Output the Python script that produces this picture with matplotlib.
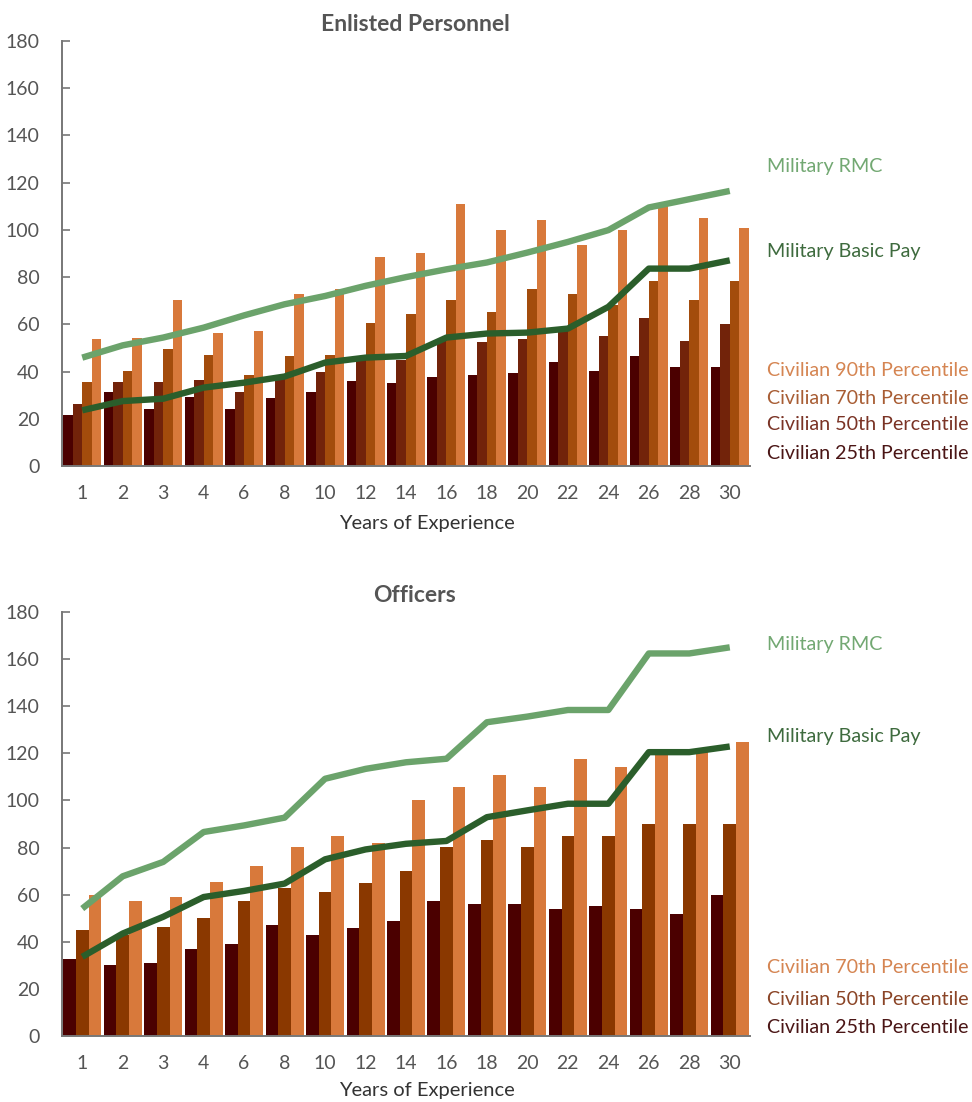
import numpy as np
import matplotlib
matplotlib.use('Agg')
import matplotlib.pyplot as plt
import matplotlib.transforms as mtransforms

plt.rcParams.update({
    "font.family": ["Lato", "DejaVu Sans"],
    "font.size": 14,
})

YEARS = ['1', '2', '3', '4', '6', '8', '10', '12', '14', '16', '18', '20', '22', '24', '26', '28', '30']

# Enlisted personnel (thousands of dollars)
ENL_P25 = [21.5, 31.2, 24.0, 29.1, 24.0, 28.7, 31.2, 35.9, 35.0, 37.6, 38.4, 39.3, 43.9, 40.1, 46.5, 41.8, 41.8]
ENL_P50 = [26.1, 35.5, 35.5, 36.3, 31.2, 37.0, 39.8, 45.0, 45.0, 54.0, 52.4, 53.7, 58.0, 54.9, 62.6, 52.8, 60.0]
ENL_P70 = [35.5, 40.1, 49.4, 46.9, 38.4, 46.5, 46.9, 60.5, 64.3, 70.2, 65.1, 74.9, 72.7, 68.0, 78.2, 70.2, 78.2]
ENL_P90 = [53.7, 54.1, 70.2, 56.2, 57.1, 72.7, 74.9, 88.4, 90.1, 110.9, 99.9, 104.1, 93.5, 99.9, 110.0, 104.9, 100.7]
ENL_RMC = [45.9, 51.1, 54.4, 58.6, 63.8, 68.5, 72.0, 76.3, 80.0, 83.3, 86.2, 90.4, 94.9, 99.9, 109.5, 113.0, 116.5]
ENL_BASIC = [23.6, 27.5, 28.5, 33.2, 35.3, 37.9, 43.8, 45.9, 46.6, 54.4, 56.1, 56.5, 58.2, 67.4, 83.6, 83.6, 87.1]

# Officers
OFF_P25 = [32.6, 30.1, 30.9, 36.9, 39.0, 47.0, 42.8, 45.8, 48.7, 57.2, 55.9, 55.9, 53.8, 55.1, 53.8, 51.7, 59.7]
OFF_P50 = [44.9, 43.0, 46.2, 50.0, 57.2, 62.9, 61.0, 64.8, 69.9, 80.1, 83.1, 80.1, 84.7, 84.7, 89.8, 89.8, 89.8]
OFF_P70 = [59.7, 57.2, 58.9, 65.3, 72.0, 80.1, 84.7, 81.8, 100.0, 105.9, 111.0, 105.9, 117.4, 114.4, 120.0, 122.0, 124.6]
OFF_RMC = [54.1, 67.8, 73.9, 86.6, 89.4, 92.7, 109.2, 113.4, 116.2, 117.7, 133.2, 135.6, 138.4, 138.4, 162.4, 162.4, 165.0]
OFF_BASIC = [33.6, 43.5, 50.6, 59.0, 61.6, 64.7, 75.0, 79.2, 81.6, 82.8, 92.9, 95.8, 98.6, 98.6, 120.5, 120.5, 122.9]

C_P25 = '#4b0000'
C_P50_ENL = '#72230a'
C_P70_ENL = '#a34c0c'
C_P50_OFF = '#8a3800'
C_P90 = '#d8793b'
C_RMC = '#6ba36b'
C_BASIC = '#2b5e2b'
GREY = '#555555'

W, H = 972, 1102
fig = plt.figure(figsize=(W / 100, H / 100), dpi=100)


def px_axes(left, top, right, bottom):
    return fig.add_axes([left / W, 1 - bottom / H, (right - left) / W, (bottom - top) / H])


def draw_panel(ax, series, rmc, basic, title, labels, xlabel_y):
    x = np.arange(len(YEARS))
    group = 0.94
    n = len(series)
    bw = group / n
    for k, (vals, col) in enumerate(series):
        ax.bar(x - group / 2 + bw * (k + 0.5), vals, width=bw, color=col, linewidth=0, zorder=2)
    ax.plot(x, rmc, color=C_RMC, lw=4.6, solid_capstyle='butt', zorder=3)
    ax.plot(x, basic, color=C_BASIC, lw=4.6, solid_capstyle='butt', zorder=3)

    ax.set_xlim(-0.5, len(YEARS) - 0.5)
    ax.set_ylim(0, 180)
    ax.set_yticks(range(0, 181, 20))
    ax.set_xticks(x)
    ax.set_xticklabels(YEARS)
    ax.tick_params(axis='x', length=0, pad=14, labelcolor=GREY, labelsize=14)
    ax.tick_params(axis='y', direction='in', length=6, width=1.2, color='#777777',
                   pad=16, labelcolor=GREY, labelsize=14)
    for s in ('top', 'right'):
        ax.spines[s].set_visible(False)
    for s in ('left', 'bottom'):
        ax.spines[s].set_color('#777777')
        ax.spines[s].set_linewidth(1.4)
    ax.set_xlabel('Years of Experience', color='#333333', fontsize=14.5)
    ax.xaxis.set_label_coords(0.53, xlabel_y)
    ax.set_title(title, fontsize=16.5, fontweight='bold', color=GREY, pad=7, x=0.513)

    tr = mtransforms.blended_transform_factory(ax.transAxes, ax.transData)
    for text, yv, col in labels:
        ax.text(1.024, yv, text, transform=tr, color=col, fontsize=14.2,
                va='center', ha='left', clip_on=False)


ax1 = px_axes(62, 41, 750, 466)
draw_panel(
    ax1,
    [(ENL_P25, C_P25), (ENL_P50, C_P50_ENL), (ENL_P70, C_P70_ENL), (ENL_P90, C_P90)],
    ENL_RMC, ENL_BASIC, 'Enlisted Personnel',
    [('Military RMC', 126.7, '#72a872'),
     ('Military Basic Pay', 90.7, '#3e6b3e'),
     ('Civilian 90th Percentile', 40.3, '#d58552'),
     ('Civilian 70th Percentile', 28.8, '#a85d34'),
     ('Civilian 50th Percentile', 17.4, '#7a3325'),
     ('Civilian 25th Percentile', 5.5, '#4a1515')],
    -0.115,
)

ax2 = px_axes(62, 612, 750, 1036)
draw_panel(
    ax2,
    [(OFF_P25, C_P25), (OFF_P50, C_P50_OFF), (OFF_P70, C_P90)],
    OFF_RMC, OFF_BASIC, 'Officers',
    [('Military RMC', 166.0, '#72a872'),
     ('Military Basic Pay', 127.0, '#3e6b3e'),
     ('Civilian 70th Percentile', 29.2, '#d58552'),
     ('Civilian 50th Percentile', 15.7, '#8a4426'),
     ('Civilian 25th Percentile', 3.8, '#4a1515')],
    -0.108,
)

fig.savefig('out.png', dpi=100)
